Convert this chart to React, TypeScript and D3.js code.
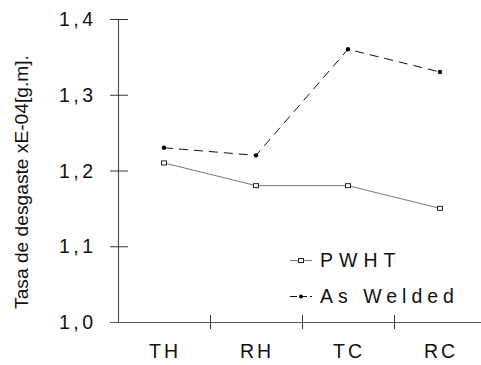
import React from "react";
import * as d3 from "d3";

const categories = ["TH", "RH", "TC", "RC"];
const pwht = [1.21, 1.18, 1.18, 1.15];
const asWelded = [1.23, 1.22, 1.36, 1.33];
const yTicks = [1.0, 1.1, 1.2, 1.3, 1.4];

const W = 481;
const H = 365;
const font = "Arial, 'Liberation Sans', sans-serif";

export default function App() {
  const x = d3.scaleBand<string>().domain(categories).range([118, 486]);
  const y = d3.scaleLinear().domain([1.0, 1.4]).range([322, 19]);
  const cx = (c: string) => (x(c) as number) + x.bandwidth() / 2;

  const line = d3
    .line<number>()
    .x((d, i) => cx(categories[i]))
    .y((d) => y(d));

  const fmt = (v: number) => v.toFixed(1).replace(".", ",");

  return (
    <div style={{ position: "absolute", left: 0, top: 0 }}>
      <svg width={W} height={H} style={{ display: "block", background: "#fff" }}>
        {/* y axis */}
        <line x1={118.5} x2={118.5} y1={19} y2={323} stroke="#555" strokeWidth={1.2} />
        {yTicks.map((t) => (
          <g key={t}>
            <line x1={110} x2={128} y1={y(t) + 0.5} y2={y(t) + 0.5} stroke="#333" strokeWidth={1} />
            <text
              x={96.5}
              y={y(t)}
              dy="0.36em"
              textAnchor="end"
              fontFamily={font}
              fontSize={19.5}
              letterSpacing={3.5}
              fill="#111"
            >
              {fmt(t)}
            </text>
          </g>
        ))}
        {/* x axis */}
        <line x1={110} x2={W} y1={322.5} y2={322.5} stroke="#555" strokeWidth={1.2} />
        {categories.slice(1).map((c) => (
          <line
            key={c}
            x1={(x(c) as number) + 0.5}
            x2={(x(c) as number) + 0.5}
            y1={315}
            y2={329}
            stroke="#333"
            strokeWidth={1}
          />
        ))}
        {categories.map((c) => (
          <text
            key={c}
            x={cx(c) + 1}
            y={358}
            textAnchor="middle"
            fontFamily={font}
            fontSize={19.5}
            letterSpacing={3}
            fill="#111"
          >
            {c}
          </text>
        ))}
        {/* y title */}
        <text
          transform={`translate(28,${182}) rotate(-90)`}
          textAnchor="middle"
          fontFamily={font}
          fontSize={19.2}
          fill="#111"
        >
          Tasa de desgaste xE-04[g.m].
        </text>
        {/* PWHT */}
        <path d={line(pwht) || ""} fill="none" stroke="#777" strokeWidth={1} />
        {pwht.map((v, i) => (
          <rect
            key={i}
            x={cx(categories[i]) - 2.5}
            y={y(v) - 2}
            width={5}
            height={4}
            fill="#fff"
            stroke="#222"
            strokeWidth={1}
          />
        ))}
        {/* As Welded */}
        <path d={line(asWelded) || ""} fill="none" stroke="#111" strokeWidth={1} strokeDasharray="9,6" />
        {asWelded.map((v, i) => (
          <circle key={i} cx={cx(categories[i])} cy={y(v)} r={2.2} fill="#000" />
        ))}
        {/* legend */}
        <g fontFamily={font} fontSize={19.5} fill="#111">
          <line x1={290} x2={312} y1={260.5} y2={260.5} stroke="#777" strokeWidth={1} />
          <rect x={298.5} y={258.5} width={5} height={4} fill="#fff" stroke="#222" />
          <text x={320} y={260} dy="0.36em" letterSpacing={6}>PWHT</text>
          <line x1={290} x2={312} y1={296.5} y2={296.5} stroke="#111" strokeWidth={1} strokeDasharray="7,3" />
          <circle cx={301} cy={296.5} r={2} fill="#000" />
          <text x={320} y={296} dy="0.36em" letterSpacing={5}>As Welded</text>
        </g>
      </svg>
    </div>
  );
}
